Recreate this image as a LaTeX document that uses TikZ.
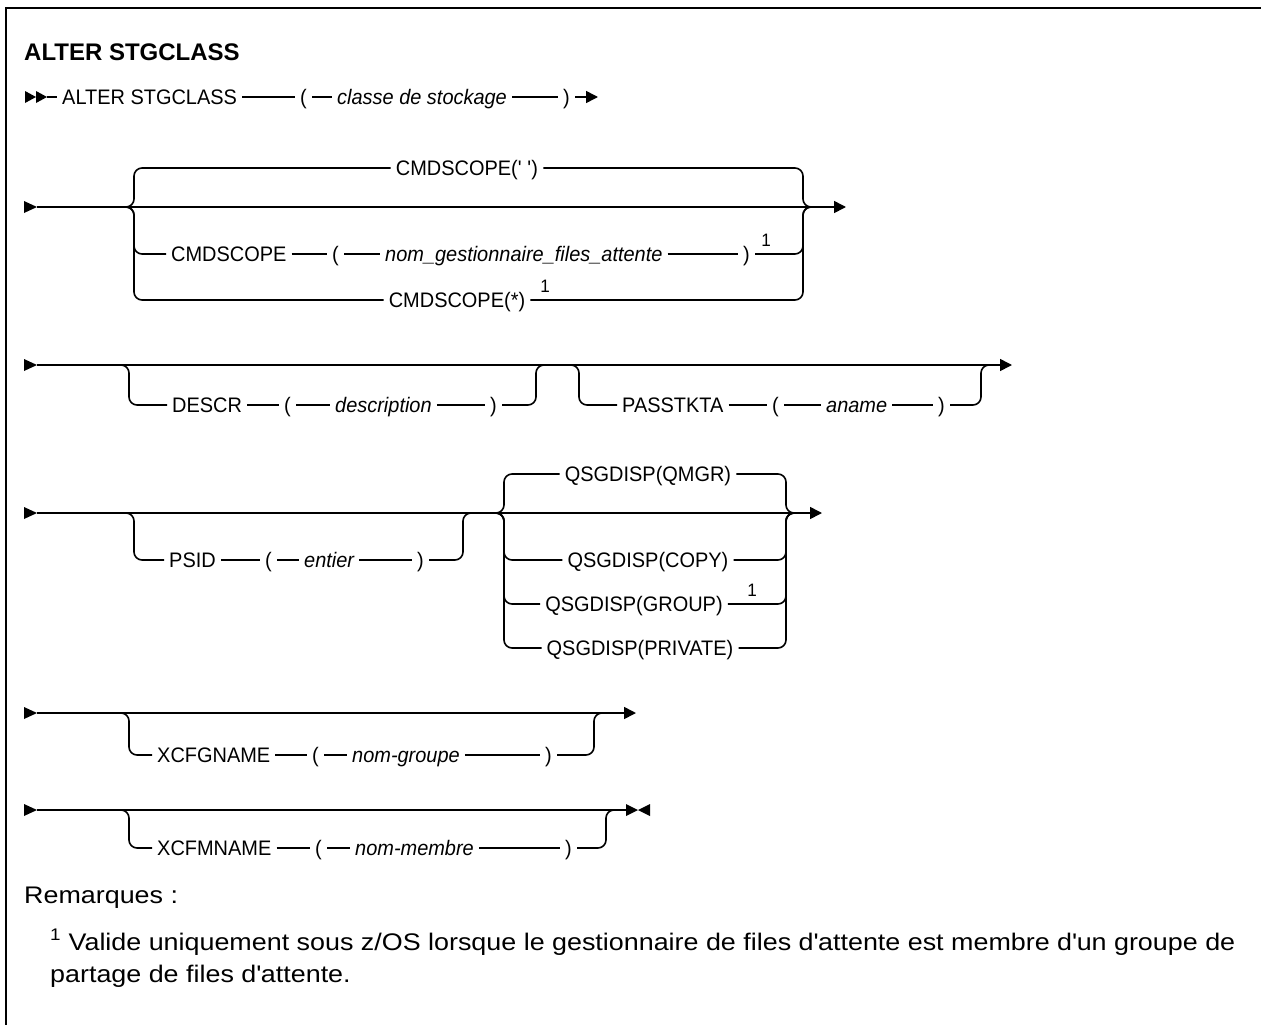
\documentclass[tikz,border=0pt]{standalone}
\usepackage{fontspec}
\setmainfont{Liberation Sans}
\newfontfamily\dfam{Liberation Sans}[FakeStretch=0.95]
\newfontfamily\nfam{Liberation Sans}[FakeStretch=1.12]
\usetikzlibrary{arrows.meta,calc}
\newcommand\dfont{\dfam\fontsize{21}{24}\selectfont}
\newcommand\nfont{\nfam\fontsize{24}{28}\selectfont}
\newcommand\q{\textquotesingle}
\begin{document}
\begin{tikzpicture}[x=1pt,y=-1pt,
  ln/.style={line width=1.6pt},
  br/.style={ln, rounded corners=8pt},
  tok/.style={font=\dfont, inner xsep=5pt, inner ysep=0pt, text height=15pt, text depth=0pt, anchor=west},
  vtok/.style={tok, font=\dfont\itshape},
  ctok/.style={tok, anchor=center},
  fnmark/.style={font=\dfam\fontsize{18}{20}\selectfont, inner sep=0pt, anchor=base},
  endarrow/.style={ln, -{Triangle[length=12pt,width=12pt]}},
  notetxt/.style={font=\nfont, inner sep=0pt, anchor=base west}
]
\useasboundingbox (0,0) rectangle (1261,1025);
\draw[line width=2.4pt] (6,1025) -- (6,8) -- (1261,8);

\node[font=\bfseries\fontsize{24}{28}\selectfont, anchor=base west, inner sep=0pt] (title) at (24,61) {ALTER STGCLASS};

% ---- row 1
\fill (25,91) -- (36,97) -- (25,103) -- cycle;
\fill (36,91) -- (47,97) -- (36,103) -- cycle;
\coordinate (r1s) at (47,97);
\node[tok] (r1a) at (57,97) {ALTER STGCLASS};
\node[tok] (r1b) at (295,97) {(};
\node[vtok] (r1c) at (332,97) {classe de stockage};
\node[tok] (r1d) at (558,97) {)};
\coordinate (r1e) at (598,97);
\draw[ln] (r1s) -- (r1a);
\draw[ln] (r1a) -- (r1b);
\draw[ln] (r1b) -- (r1c);
\draw[ln] (r1c) -- (r1d);
\draw[endarrow] (r1d) -- (r1e);

% ---- row 2 CMDSCOPE
\fill (24,201) -- (37,207) -- (24,213) -- cycle;
\coordinate (r2s) at (37,207);
\coordinate (r2e) at (846,207);
\draw[endarrow] (r2s) -- (r2e);
\coordinate (c2L) at (134,207);
\coordinate (c2R) at (803,207);
\node[ctok] (cs1) at (467,168) {CMDSCOPE(\q\ \q)};
\draw[br] ($(c2L)+(-12,0)$) -- (c2L) -- (c2L |- cs1) -- (cs1);
\draw[br] (cs1) -- (c2R |- cs1) -- (c2R) -- ($(c2R)+(12,0)$);
\node[tok] (cs2a) at (166,254) {CMDSCOPE};
\node[tok] (cs2b) at (327,254) {(};
\node[vtok] (cs2c) at (380,254) {nom\_gestionnaire\_files\_attente};
\node[tok] (cs2d) at (738,254) {)};
\node[fnmark] (cs2n) at (766,246) {1};
\draw[br] ($(c2L)+(-12,0)$) -- (c2L) -- (c2L |- cs2a) -- (cs2a);
\draw[ln] (cs2a) -- (cs2b);
\draw[ln] (cs2b) -- (cs2c);
\draw[ln] (cs2c) -- (cs2d);
\draw[br] (cs2d) -- (c2R |- cs2d) -- (c2R) -- ($(c2R)+(12,0)$);
\node[ctok] (cs3) at (457,300) {CMDSCOPE(*)};
\node[fnmark] (cs3n) at (545,292) {1};
\draw[br] ($(c2L)+(-12,0)$) -- (c2L) -- (c2L |- cs3) -- (cs3);
\draw[br] (cs3) -- (c2R |- cs3) -- (c2R) -- ($(c2R)+(12,0)$);

% ---- row 3 DESCR / PASSTKTA
\fill (24,359) -- (37,365) -- (24,371) -- cycle;
\coordinate (r3s) at (37,365);
\coordinate (r3e) at (1012,365);
\draw[endarrow] (r3s) -- (r3e);
\coordinate (d1L) at (129,365);
\coordinate (d1R) at (536,365);
\node[tok] (de1) at (167,405) {DESCR};
\node[tok] (de2) at (279,405) {(};
\node[vtok] (de3) at (330,405) {description};
\node[tok] (de4) at (485,405) {)};
\draw[br] ($(d1L)+(-12,0)$) -- (d1L) -- (d1L |- de1) -- (de1);
\draw[ln] (de1) -- (de2);
\draw[ln] (de2) -- (de3);
\draw[ln] (de3) -- (de4);
\draw[br] (de4) -- (d1R |- de4) -- (d1R) -- ($(d1R)+(12,0)$);
\coordinate (d2L) at (579,365);
\coordinate (d2R) at (981,365);
\node[tok] (pa1) at (617,405) {PASSTKTA};
\node[tok] (pa2) at (767,405) {(};
\node[vtok] (pa3) at (821,405) {aname};
\node[tok] (pa4) at (933,405) {)};
\draw[br] ($(d2L)+(-12,0)$) -- (d2L) -- (d2L |- pa1) -- (pa1);
\draw[ln] (pa1) -- (pa2);
\draw[ln] (pa2) -- (pa3);
\draw[ln] (pa3) -- (pa4);
\draw[br] (pa4) -- (d2R |- pa4) -- (d2R) -- ($(d2R)+(12,0)$);

% ---- row 4 PSID / QSGDISP
\fill (24,507) -- (37,513) -- (24,519) -- cycle;
\coordinate (r4s) at (37,513);
\coordinate (r4e) at (822,513);
\draw[endarrow] (r4s) -- (r4e);
\coordinate (p1L) at (134,513);
\coordinate (p1R) at (463,513);
\node[tok] (ps1) at (164,560) {PSID};
\node[tok] (ps2) at (260,560) {(};
\node[vtok] (ps3) at (299,560) {entier};
\node[tok] (ps4) at (412,560) {)};
\draw[br] ($(p1L)+(-12,0)$) -- (p1L) -- (p1L |- ps1) -- (ps1);
\draw[ln] (ps1) -- (ps2);
\draw[ln] (ps2) -- (ps3);
\draw[ln] (ps3) -- (ps4);
\draw[br] (ps4) -- (p1R |- ps4) -- (p1R) -- ($(p1R)+(12,0)$);
\coordinate (q1L) at (504,513);
\coordinate (q1R) at (786,513);
\node[ctok] (qa) at (648,474) {QSGDISP(QMGR)};
\node[ctok] (qb) at (648,560) {QSGDISP(COPY)};
\node[ctok] (qc) at (634,604) {QSGDISP(GROUP)};
\node[fnmark] (qcn) at (752,596) {1};
\node[ctok] (qd) at (640,648) {QSGDISP(PRIVATE)};
\foreach \n in {qa,qb,qc,qd}{
  \draw[br] ($(q1L)+(-12,0)$) -- (q1L) -- (q1L |- \n) -- (\n);
  \draw[br] (\n) -- (q1R |- \n) -- (q1R) -- ($(q1R)+(12,0)$);
}

% ---- row 5 XCFGNAME
\fill (24,707) -- (37,713) -- (24,719) -- cycle;
\coordinate (r5s) at (37,713);
\coordinate (r5e) at (636,713);
\draw[endarrow] (r5s) -- (r5e);
\coordinate (x1L) at (129,713);
\coordinate (x1R) at (594,713);
\node[tok] (xg1) at (152,755) {XCFGNAME};
\node[tok] (xg2) at (307,755) {(};
\node[vtok] (xg3) at (347,755) {nom-groupe};
\node[tok] (xg4) at (540,755) {)};
\draw[br] ($(x1L)+(-12,0)$) -- (x1L) -- (x1L |- xg1) -- (xg1);
\draw[ln] (xg1) -- (xg2);
\draw[ln] (xg2) -- (xg3);
\draw[ln] (xg3) -- (xg4);
\draw[br] (xg4) -- (x1R |- xg4) -- (x1R) -- ($(x1R)+(12,0)$);

% ---- row 6 XCFMNAME
\fill (24,804) -- (37,810) -- (24,816) -- cycle;
\coordinate (r6s) at (37,810);
\coordinate (r6e) at (626,810);
\draw[ln] (r6s) -- (r6e);
\fill (626,804) -- (638,810) -- (626,816) -- cycle;
\fill (650,804) -- (638,810) -- (650,816) -- cycle;
\coordinate (x2L) at (129,810);
\coordinate (x2R) at (606,810);
\node[tok] (xm1) at (152,848) {XCFMNAME};
\node[tok] (xm2) at (310,848) {(};
\node[vtok] (xm3) at (350,848) {nom-membre};
\node[tok] (xm4) at (560,848) {)};
\draw[br] ($(x2L)+(-12,0)$) -- (x2L) -- (x2L |- xm1) -- (xm1);
\draw[ln] (xm1) -- (xm2);
\draw[ln] (xm2) -- (xm3);
\draw[ln] (xm3) -- (xm4);
\draw[br] (xm4) -- (x2R |- xm4) -- (x2R) -- ($(x2R)+(12,0)$);

% ---- notes
\node[notetxt] (rem) at (24,903) {Remarques :};
\node[notetxt] (n1) at (50,950) {\textsuperscript{1} Valide uniquement sous z/OS lorsque le gestionnaire de files d\q attente est membre d\q un groupe de};
\node[notetxt] (n2) at (50,982) {partage de files d\q attente.};
\end{tikzpicture}
\end{document}
